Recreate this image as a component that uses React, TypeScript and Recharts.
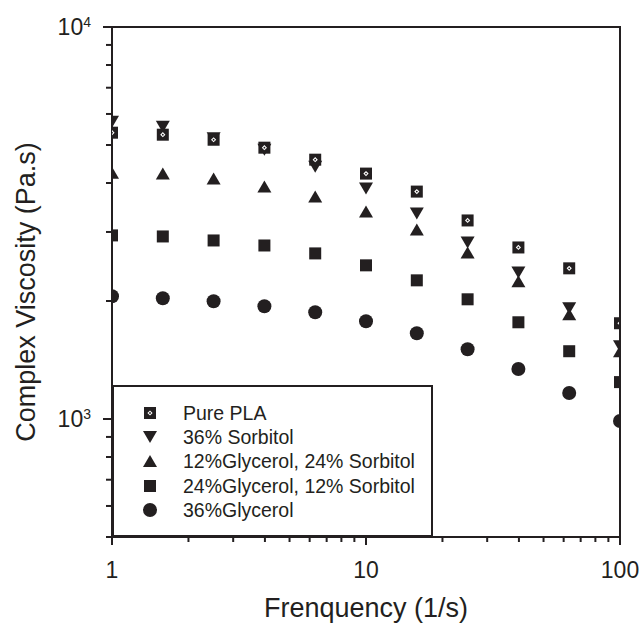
import React from 'react';
import { ScatterChart, Scatter, XAxis, YAxis, Legend, Label } from 'recharts';

const freq = [1, 1.585, 2.512, 3.981, 6.31, 10, 15.85, 25.12, 39.81, 63.1, 100];
const purePLA = [5375, 5312, 5157, 4922, 4587, 4227, 3803, 3210, 2739, 2423, 1755];
const sorbitol36 = [5733, 5566, 5200, 4864, 4403, 3870, 3344, 2821, 2366, 1916, 1534];
const gly12sorb24 = [4251, 4227, 4104, 3916, 3693, 3383, 3045, 2660, 2245, 1850, 1489];
const gly24sorb12 = [2940, 2922, 2854, 2771, 2645, 2466, 2258, 2020, 1765, 1489, 1242];
const glycerol36 = [2056, 2032, 1997, 1939, 1872, 1776, 1655, 1507, 1341, 1165, 988];

const seriesNames = [
  'Pure PLA',
  '36% Sorbitol',
  '12%Glycerol, 24% Sorbitol',
  '24%Glycerol, 12% Sorbitol',
  '36%Glycerol',
];

const xTicks = [1, 2, 3, 4, 5, 6, 7, 8, 9, 10, 20, 30, 40, 50, 60, 70, 80, 90, 100];
const xMajorLabels: Record<number, string> = { 1: '1', 10: '10', 100: '100' };
const yTicks = [500, 600, 700, 800, 900, 1000, 2000, 3000, 4000, 5000, 6000, 7000, 8000, 9000, 10000];
const yMajorExp: Record<number, string> = { 1000: '3', 10000: '4' };

const INK = '#231f20';
const FONT = '"Liberation Sans", Arial, Helvetica, sans-serif';

const toPoints = (vals: number[]) => freq.map((x, i) => ({ x, y: vals[i] }));

type ShapeKind = 'pure' | 'down' | 'up' | 'square' | 'circle';

const Marker = ({ kind, cx, cy }: { kind: ShapeKind; cx: number; cy: number }) => {
  if (cx == null || cy == null) return null;
  switch (kind) {
    case 'pure':
      return (
        <g>
          <rect x={cx - 6} y={cy - 6} width={12} height={12} fill={INK} />
          <polygon
            points={`${cx},${cy - 2.6} ${cx + 2.6},${cy} ${cx},${cy + 2.6} ${cx - 2.6},${cy}`}
            fill="#ffffff"
          />
          <circle cx={cx} cy={cy} r={0.9} fill={INK} />
        </g>
      );
    case 'down':
      return <polygon points={`${cx - 7},${cy - 6} ${cx + 7},${cy - 6} ${cx},${cy + 6}`} fill={INK} />;
    case 'up':
      return <polygon points={`${cx - 7},${cy + 6} ${cx + 7},${cy + 6} ${cx},${cy - 6}`} fill={INK} />;
    case 'square':
      return <rect x={cx - 6} y={cy - 6} width={12} height={12} fill={INK} />;
    default:
      return <circle cx={cx} cy={cy} r={7} fill={INK} />;
  }
};

const kinds: ShapeKind[] = ['pure', 'down', 'up', 'square', 'circle'];

const XTick = (props: any) => {
  const { x, y, payload } = props;
  const v = payload.value;
  const label = xMajorLabels[v];
  const major = label !== undefined;
  return (
    <g>
      <line x1={x} y1={y} x2={x} y2={y + (major ? 8 : 5)} stroke={INK} strokeWidth={2} />
      {major && (
        <text x={x} y={y + 41} textAnchor="middle" fontSize={23} fill={INK} fontFamily={FONT}>
          {label}
        </text>
      )}
    </g>
  );
};

const YTick = (props: any) => {
  const { x, y, payload } = props;
  const v = payload.value;
  const exp = yMajorExp[v];
  const major = exp !== undefined;
  return (
    <g>
      <line x1={x} y1={y} x2={x - (major ? 9 : 6)} y2={y} stroke={INK} strokeWidth={2} />
      {major && (
        <text x={x - 21} y={y + 8} textAnchor="end" fontSize={23} fill={INK} fontFamily={FONT}>
          10
          <tspan dy={-8} fontSize={14}>
            {exp}
          </tspan>
        </text>
      )}
    </g>
  );
};

const LegendBox = () => {
  const rows = [28, 52, 76, 101, 125];
  return (
    <svg width={321} height={152} style={{ display: 'block' }}>
      <rect x={1} y={1} width={319} height={150} fill="#ffffff" stroke={INK} strokeWidth={2} />
      {seriesNames.map((name, i) => (
        <g key={name}>
          <Marker kind={kinds[i]} cx={38} cy={rows[i]} />
          <text x={71} y={rows[i] + 7} fontSize={19.5} fill={INK} fontFamily={FONT}>
            {name}
          </text>
        </g>
      ))}
    </svg>
  );
};

const seriesData = [purePLA, sorbitol36, gly12sorb24, gly24sorb12, glycerol36];
const drawOrder = [4, 3, 2, 1, 0];

export default function App() {
  return (
    <div style={{ position: 'absolute', left: 0, top: 0, width: 642, height: 630, background: '#fff' }}>
      <ScatterChart
        width={642}
        height={630}
        margin={{ top: 27, right: 22, bottom: 0, left: 0 }}
        style={{ fontFamily: FONT }}
      >
        <XAxis
          dataKey="x"
          type="number"
          scale="log"
          domain={[1, 100]}
          allowDataOverflow
          ticks={xTicks}
          interval={0}
          tick={<XTick />}
          tickLine={false}
          tickSize={0}
          tickMargin={0}
          height={93}
          stroke={INK}
          strokeWidth={2}
          axisLine={{ stroke: INK, strokeWidth: 2 }}
        >
          <Label
            value="Frenquency (1/s)"
            position="insideBottom"
            offset={13}
            fontSize={27}
            fill={INK}
            fontFamily={FONT}
          />
        </XAxis>
        <YAxis
          dataKey="y"
          type="number"
          scale="log"
          domain={[500, 10000]}
          allowDataOverflow
          ticks={yTicks}
          interval={0}
          tick={<YTick />}
          tickLine={false}
          tickSize={0}
          tickMargin={0}
          width={112}
          stroke={INK}
          strokeWidth={2}
          axisLine={{ stroke: INK, strokeWidth: 2 }}
        >
          <Label
            content={() => (
              <text
                x={35}
                y={292}
                transform="rotate(-90 35 292)"
                textAnchor="middle"
                fontSize={27}
                fill={INK}
                fontFamily={FONT}
              >
                Complex Viscosity (Pa.s)
              </text>
            )}
          />
        </YAxis>
        {drawOrder.map((i) => (
          <Scatter
            key={seriesNames[i]}
            name={seriesNames[i]}
            data={toPoints(seriesData[i])}
            isAnimationActive={false}
            shape={(p: any) => <Marker kind={kinds[i]} cx={p.cx} cy={p.cy} />}
          />
        ))}
        <Legend
          layout="vertical"
          align="center"
          verticalAlign="middle"
          wrapperStyle={{ left: 112, top: 385, width: 321, height: 152 }}
          content={() => <LegendBox />}
        />
      </ScatterChart>
      <div
        style={{
          position: 'absolute',
          left: 112,
          top: 26,
          width: 509,
          height: 511,
          boxSizing: 'border-box',
          borderTop: `2px solid ${INK}`,
          borderRight: `2px solid ${INK}`,
          pointerEvents: 'none',
        }}
      />
    </div>
  );
}
